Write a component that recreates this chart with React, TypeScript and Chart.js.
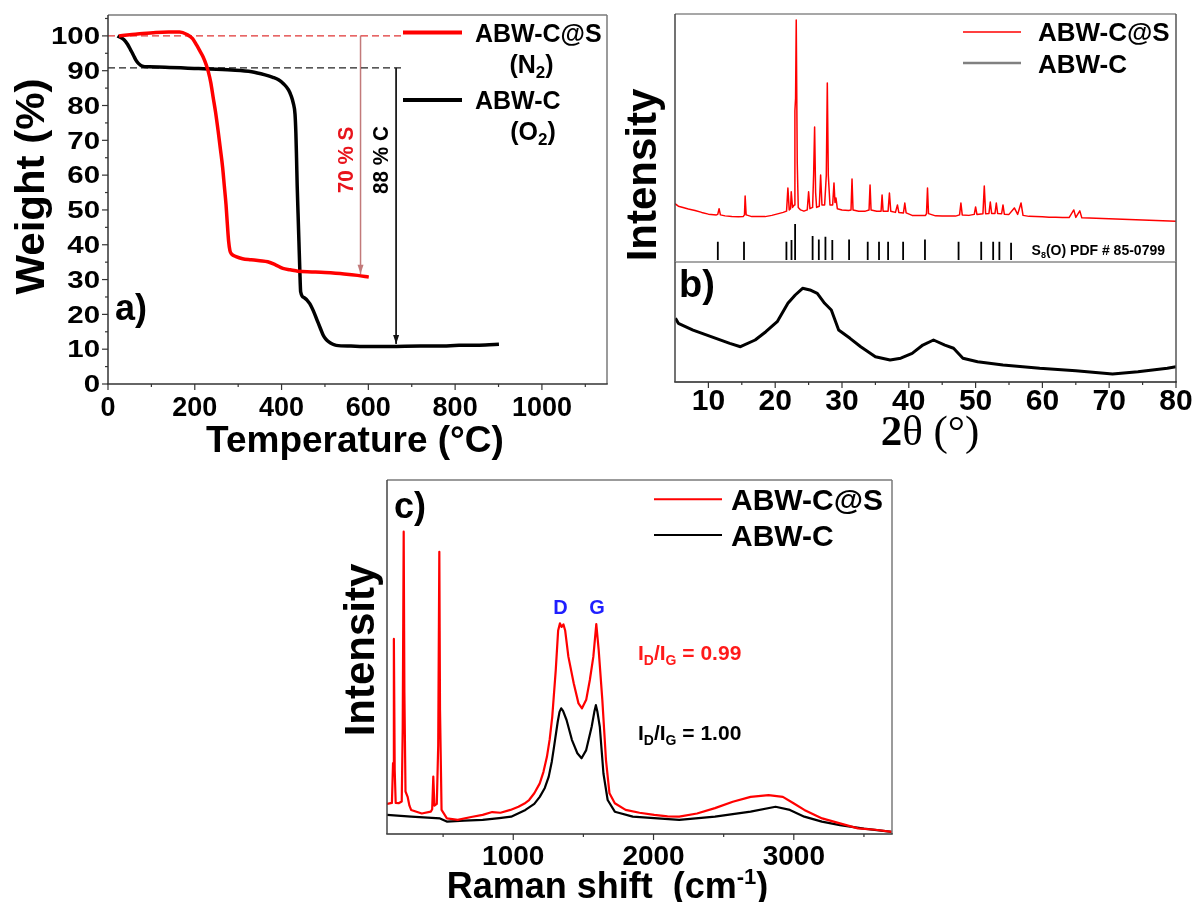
import React, { useEffect, useRef } from 'react';
import { Chart, registerables } from 'chart.js';
Chart.register(...registerables);

const W = 1192, H = 902;

// ---------- Panel a: TGA ----------
const tgaSX = [25, 50, 80, 110, 140, 165, 182, 195, 204, 212, 219, 226, 231, 237, 242, 248, 254, 259, 264, 268, 272, 275, 278, 281, 285, 295, 310, 330, 350, 368, 385, 403, 420, 438, 470, 500, 544, 575, 601];
const tgaSY = [100, 100.3, 100.7, 101.0, 101.1, 101.1, 100.4, 99.2, 97.4, 95.6, 94.0, 91.8, 89.8, 86.5, 82.6, 78, 72.5, 67.5, 62.4, 57, 51.5, 46, 41, 38.3, 37.3, 36.6, 36.0, 35.7, 35.4, 35.1, 34.3, 33.2, 32.8, 32.4, 32.2, 32.0, 31.6, 31.2, 30.7];
const tgaCX = [22, 37, 45, 52, 58, 64, 70, 79, 95, 132, 209, 285, 331, 362, 380, 393, 405, 416, 422, 427, 431, 433, 434.5, 436, 438, 440, 442, 444, 452, 465, 474, 482, 490, 496, 502, 509, 517, 526, 560, 588, 650, 720, 760, 809, 870, 901];
const tgaCY = [100, 98.9, 97.6, 96, 94.6, 93.1, 92.1, 91.3, 91.1, 91.0, 90.6, 90.2, 89.7, 88.8, 88.1, 87.4, 86.2, 84.5, 82.8, 80.7, 77.5, 72, 65, 57, 49, 41, 33, 26.5, 24.8, 23.1, 20.8, 18.3, 15.8, 14, 12.9, 12.1, 11.5, 11.1, 10.9, 10.8, 10.8, 10.9, 10.9, 11.1, 11.2, 11.4];
const tgaXTicks = [0, 200, 400, 600, 800, 1000];
const tgaXMinor = [100, 300, 500, 700, 900, 1100];
const tgaYTicks = [0, 10, 20, 30, 40, 50, 60, 70, 80, 90, 100];
const tgaYMinor = [5, 15, 25, 35, 45, 55, 65, 75, 85, 95, 105];
const sLevel = 100;
const cLevel = 90.8;
const guideEndT = 677;
const sArrow = { t: 582, end: 31.7 };
const cArrow = { t: 664, end: 11.5 };

// ---------- Panel b: XRD ----------
const xrdS: [number, number][] = [
  [5.0, 23.5], [5.5, 22.5], [6.2, 22.0], [7, 21.4], [8, 20.8], [9, 20.0], [10, 19.3], [11.2, 19.0], [11.4, 19.2], [11.6, 21.5], [11.8, 19.0],
  [12.5, 18.6], [13.5, 18.3], [14.5, 18.2], [15.2, 18.3], [15.4, 19], [15.5, 26.6], [15.65, 19], [16.5, 18.3], [17.5, 18.3], [18.5, 18.3],
  [19.5, 18.8], [20.5, 19.5], [21.2, 20], [21.7, 20.5], [21.9, 29.8], [22.1, 21], [22.3, 21.5], [22.4, 28.3], [22.6, 22], [22.85, 23],
  [22.95, 61], [23.05, 66], [23.15, 97.6], [23.3, 40], [23.45, 22], [23.8, 21], [24.3, 20.5], [24.8, 21], [25.0, 28.3], [25.2, 21.5],
  [25.6, 22], [25.75, 35], [25.9, 54.4], [26.05, 28], [26.2, 22], [26.6, 22.5], [26.8, 35.1], [27.0, 23], [27.4, 23], [27.65, 35],
  [27.8, 72.2], [27.95, 35], [28.2, 23], [28.6, 23], [28.8, 31.9], [28.95, 24], [29.1, 25.8], [29.3, 21.5], [30, 21], [31, 20.8],
  [31.35, 21], [31.5, 33.5], [31.65, 21], [32.5, 20.5], [33.5, 20.5], [34.05, 21], [34.2, 31], [34.35, 21], [35.2, 20.5], [35.85, 20.5],
  [36.0, 27], [36.15, 20.5], [36.9, 20.5], [37.1, 27.8], [37.3, 20.5], [38.0, 20], [38.3, 23], [38.5, 20], [39.2, 19.8], [39.4, 23.8],
  [39.6, 19.8], [40.5, 18.8], [41.5, 18.7], [42.5, 18.8], [42.65, 19.5], [42.8, 29.8], [42.95, 19.5], [44, 18.6], [45, 18.5], [46, 18.5],
  [47, 18.5], [47.6, 19], [47.8, 23.8], [48.0, 19], [49, 18.8], [49.8, 19.2], [50.0, 22.2], [50.2, 19.2], [51.1, 19.5], [51.3, 30.6],
  [51.5, 19.5], [52.0, 19.6], [52.2, 24.2], [52.4, 19.6], [52.9, 19.6], [53.1, 23.8], [53.3, 19.6], [53.9, 19.5], [54.1, 23], [54.3, 19.3],
  [55.0, 19.2], [55.8, 21.8], [56.3, 19.2], [56.8, 23.8], [57.1, 18.8], [58, 18.4], [59, 18.3], [60, 18.2], [61, 18.0], [62, 18.0],
  [63, 17.9], [64, 17.9], [64.7, 21], [65.0, 18], [65.6, 20.6], [65.9, 17.8], [67, 17.7], [68, 17.6], [69, 17.5], [70, 17.4], [71, 17.3],
  [72, 17.2], [73, 17.1], [74, 17.0], [75, 16.9], [76, 16.8], [77, 16.7], [78, 16.6], [79, 16.5], [80, 16.4],
];
const xrdRefPos = [11.41, 15.33, 21.68, 22.44, 22.98, 25.6, 26.53, 27.52, 28.55, 31.06, 33.85, 35.54, 36.9, 39.15, 42.42, 47.45, 50.84, 52.63, 53.56, 55.31];
const xrdRefInt = [8.2, 8.2, 8.2, 8.9, 15.3, 10.5, 9.1, 10.2, 8.9, 9.1, 8.2, 8.2, 8.2, 8.2, 9.1, 8.2, 8.2, 8.2, 8.2, 7.8];
const xrdRefBase = 0.8;
const xrdC: [number, number][] = [
  [5.07, 53.1], [5.5, 48.9], [7.7, 43.3], [10.4, 37.8], [13.2, 32.2], [14.8, 29.4], [17.0, 35], [18.6, 41.9], [20.3, 50.3], [21.9, 65.6],
  [23.0, 72.5], [24.1, 78.1], [25.2, 76.7], [26.3, 73.9], [27.4, 65.6], [28.4, 60], [29.5, 43.3], [31.2, 36.4], [32.8, 29.4], [35.0, 21.1],
  [37.2, 18.3], [38.8, 19.8], [40.5, 23.9], [42.1, 30.8], [43.7, 35], [45.4, 30.8], [46.7, 28.1], [48.1, 19.8], [50.3, 16.9], [54.1, 14.2],
  [59.6, 11.4], [65.0, 9.4], [70.5, 6.7], [74.3, 8.6], [78.7, 11.4], [80, 12.8],
];
const xrdXTicks = [10, 20, 30, 40, 50, 60, 70, 80];
const xrdXMinor = [15, 25, 35, 45, 55, 65, 75];

// ---------- Panel c: Raman ----------
const ramanS: [number, number][] = [
  [100, 8.5], [135, 8.8], [143, 20], [149, 55.1], [155, 18], [162, 8.8], [183, 8.7], [205, 9.2], [212, 30], [219, 85.4], [224, 40],
  [232, 12], [247, 10.5], [260, 8], [272, 6.8], [348, 5.8], [412, 6.3], [422, 7], [430, 16.2], [438, 8], [455, 8.5], [465, 25],
  [473, 79.7], [478, 35], [489, 6.8], [527, 4.4], [604, 4.0], [700, 4.8], [782, 5.4], [850, 6.2], [909, 6.0], [980, 6.8], [1037, 7.7],
  [1080, 8.6], [1113, 9.6], [1150, 11.5], [1189, 14.3], [1215, 17.5], [1240, 21.8], [1260, 26.8], [1278, 33.1], [1303, 46.3],
  [1320, 57.5], [1333, 59.5], [1345, 58.5], [1358, 59.2], [1370, 57.5], [1393, 50.1], [1431, 42.6], [1465, 36.9], [1490, 35.5],
  [1520, 37.9], [1546, 43.5], [1571, 50.1], [1592, 59.3], [1609, 52], [1635, 37.9], [1661, 20.9], [1686, 11.5], [1724, 8.7],
  [1801, 6.8], [1900, 6.0], [2005, 5.4], [2100, 5.0], [2183, 4.9], [2310, 5.8], [2438, 7.3], [2565, 9.1], [2692, 10.5], [2820, 11.0],
  [2922, 10.5], [2998, 8.7], [3075, 6.8], [3202, 4.4], [3329, 3.0], [3457, 1.6], [3580, 1.2], [3699, 0.6],
];
const ramanC: [number, number][] = [
  [100, 5.4], [272, 4.9], [478, 4.4], [526, 3.5], [650, 3.8], [782, 4.0], [900, 4.5], [985, 4.9], [1087, 6.8], [1150, 8.5], [1189, 10.5],
  [1225, 13], [1253, 16.2], [1275, 20.5], [1291, 24.7], [1317, 31.7], [1330, 34.5], [1342, 35.5], [1355, 34.8], [1380, 32.2], [1418, 26.6],
  [1457, 22.8], [1487, 21.4], [1520, 23.7], [1559, 30.3], [1578, 34.5], [1589, 36.4], [1600, 34.5], [1617, 30.3], [1643, 17.1],
  [1673, 9.6], [1724, 6.3], [1852, 4.9], [2183, 4.0], [2438, 4.9], [2692, 6.3], [2870, 7.7], [2972, 6.8], [3075, 4.9], [3200, 3.5],
  [3329, 2.5], [3500, 1.5], [3699, 0.6],
];
const ramanXTicks = [1000, 2000, 3000];
const ramanXMinor = [500, 1500, 2500, 3500];

// ---------- helpers ----------
const SANS = '"Liberation Sans", Arial, Helvetica, sans-serif';
const SERIF = '"Liberation Serif", "Times New Roman", serif';
type Run = { t: string; s: number; w?: string; f?: string; dy?: number };
type TOpt = { align?: string; color?: string; rot?: number; sx?: number };

function runs(ctx: CanvasRenderingContext2D, rs: Run[], x: number, y: number, o: TOpt = {}) {
  ctx.save();
  ctx.translate(x, y);
  if (o.rot) ctx.rotate(o.rot);
  if (o.sx) ctx.scale(o.sx, 1);
  ctx.fillStyle = o.color || '#000';
  ctx.textAlign = 'left';
  ctx.textBaseline = 'alphabetic';
  const fonts = rs.map((r) => `${r.w ?? 'bold'} ${r.s}px ${r.f ?? SANS}`);
  const ws = rs.map((r, i) => { ctx.font = fonts[i]; return ctx.measureText(r.t).width; });
  const tot = ws.reduce((a, b) => a + b, 0);
  let cx = o.align === 'center' ? -tot / 2 : o.align === 'right' ? -tot : 0;
  rs.forEach((r, i) => { ctx.font = fonts[i]; ctx.fillText(r.t, cx, r.dy ?? 0); cx += ws[i]; });
  ctx.restore();
}
function txt(ctx: CanvasRenderingContext2D, t: string, s: number, x: number, y: number, o: TOpt = {}) {
  runs(ctx, [{ t, s }], x, y, o);
}
function seg(ctx: CanvasRenderingContext2D, x1: number, y1: number, x2: number, y2: number, color: string, w: number) {
  ctx.save();
  ctx.strokeStyle = color;
  ctx.lineWidth = w;
  ctx.beginPath();
  ctx.moveTo(x1, y1);
  ctx.lineTo(x2, y2);
  ctx.stroke();
  ctx.restore();
}
function box(ctx: CanvasRenderingContext2D, a: any, sides: { l?: string; r?: string; t?: string; b?: string }) {
  if (sides.t) seg(ctx, a.left, a.top, a.right, a.top, sides.t, 1.5);
  if (sides.r) seg(ctx, a.right, a.top, a.right, a.bottom, sides.r, 1.5);
  if (sides.b) seg(ctx, a.left - 0.75, a.bottom, a.right + 0.75, a.bottom, sides.b, 1.5);
  if (sides.l) seg(ctx, a.left, a.top, a.left, a.bottom, sides.l, 1.5);
}
function xTicks(ctx: CanvasRenderingContext2D, chart: any, majors: number[], minors: number[], base: number, size: number, sx = 1) {
  const xs = chart.scales.x, a = chart.chartArea;
  majors.forEach((v) => {
    const p = xs.getPixelForValue(v);
    seg(ctx, p, a.bottom, p, a.bottom + 6, '#333', 1.2);
    txt(ctx, String(v), size, p, base, { align: 'center', sx });
  });
  minors.forEach((v) => {
    const p = xs.getPixelForValue(v);
    seg(ctx, p, a.bottom, p, a.bottom + 3, '#333', 1.2);
  });
}
const pts = (xs: number[], ys: number[]) => xs.map((x, i) => ({ x, y: ys[i] }));
const pairs = (p: [number, number][]) => p.map(([x, y]) => ({ x, y }));
const ds = (data: any[], color: string, width: number, extra: any = {}) => ({
  type: 'line', data, borderColor: color, backgroundColor: color, borderWidth: width, pointRadius: 0, fill: false, tension: 0,
  borderJoinStyle: 'round', ...extra,
});

function makeChart(canvas: HTMLCanvasElement, xr: [number, number], yr: [number, number], area: [number, number, number, number], datasets: any[], plugin: any) {
  return new Chart(canvas, {
    type: 'line',
    data: { datasets },
    options: {
      responsive: false,
      animation: false,
      devicePixelRatio: 1,
      events: [],
      layout: { padding: { left: area[0], top: area[1], right: W - area[2], bottom: H - area[3] } },
      plugins: { legend: { display: false }, tooltip: { enabled: false }, title: { display: false } },
      scales: {
        x: { type: 'linear', min: xr[0], max: xr[1], display: false },
        y: { type: 'linear', min: yr[0], max: yr[1], display: false },
      },
    } as any,
    plugins: [plugin],
  } as any);
}

function buildA(canvas: HTMLCanvasElement) {
  const datasets = [
    ds(pts(tgaSX, tgaSY), '#ff0000', 3.5, { cubicInterpolationMode: 'monotone' }),
    ds(pts(tgaCX, tgaCY), '#000000', 3.5, { cubicInterpolationMode: 'monotone' }),
    ds([{ x: 0, y: sLevel }, { x: guideEndT, y: sLevel }], '#e03535', 1.2, { borderDash: [7, 4] }),
    ds([{ x: 0, y: cLevel }, { x: guideEndT, y: cLevel }], '#222222', 1.2, { borderDash: [7, 4] }),
    ds([{ x: sArrow.t, y: sLevel }, { x: sArrow.t, y: sArrow.end }], '#c27a7a', 1.5),
    ds([{ x: cArrow.t, y: cLevel }, { x: cArrow.t, y: cArrow.end }], '#111111', 1),
  ];
  const plugin = {
    id: 'panelA',
    afterDatasetsDraw(chart: any) {
      const ctx = chart.ctx as CanvasRenderingContext2D;
      const xs = chart.scales.x, ys = chart.scales.y, a = chart.chartArea;
      const head = (t: number, v: number, color: string) => {
        const px = xs.getPixelForValue(t), py = ys.getPixelForValue(v);
        ctx.save();
        ctx.fillStyle = color;
        ctx.beginPath();
        ctx.moveTo(px, py);
        ctx.lineTo(px - 3, py - 9);
        ctx.lineTo(px + 3, py - 9);
        ctx.closePath();
        ctx.fill();
        ctx.restore();
      };
      head(sArrow.t, sArrow.end, '#c27a7a');
      head(cArrow.t, cArrow.end, '#111111');
      box(ctx, a, { t: '#7a7a7a', r: '#7a7a7a', b: '#333', l: '#333' });
      xTicks(ctx, chart, tgaXTicks, tgaXMinor, 416.4, 27);
      tgaYTicks.forEach((v) => {
        const p = ys.getPixelForValue(v);
        seg(ctx, a.left - 6, p, a.left, p, '#333', 1.2);
        txt(ctx, String(v), 23, a.left - 8, p + 8.2, { align: 'right', sx: 1.28 });
      });
      tgaYMinor.forEach((v) => {
        const p = ys.getPixelForValue(v);
        seg(ctx, a.left - 3, p, a.left, p, '#333', 1.2);
      });
      txt(ctx, 'Weight (%)', 40, 43.8, 186.5, { align: 'center', rot: -Math.PI / 2, sx: 1.05 });
      txt(ctx, 'Temperature (\u00B0C)', 37, 355, 452, { align: 'center' });
      txt(ctx, 'a)', 36, 115, 320);
      txt(ctx, '70 % S', 22, 352.9, 160, { align: 'center', rot: -Math.PI / 2, color: '#e8141c', sx: 0.94 });
      txt(ctx, '88 % C', 22, 387.9, 160, { align: 'center', rot: -Math.PI / 2, sx: 0.94 });
      seg(ctx, 403, 32.5, 462, 32.5, '#ff0000', 4);
      txt(ctx, 'ABW-C@S', 25, 475, 42);
      runs(ctx, [{ t: '(N', s: 25 }, { t: '2', s: 17, dy: 5 }, { t: ')', s: 25 }], 531.5, 73, { align: 'center' });
      seg(ctx, 403, 100, 462, 100, '#000000', 4);
      txt(ctx, 'ABW-C', 25, 475, 109);
      runs(ctx, [{ t: '(O', s: 25 }, { t: '2', s: 17, dy: 5 }, { t: ')', s: 25 }], 533, 140, { align: 'center' });
    },
  };
  return makeChart(canvas, [0, 1150], [0, 106], [108, 15, 607, 384], datasets, plugin);
}

function buildBTop(canvas: HTMLCanvasElement) {
  const sticks: any[] = [];
  xrdRefPos.forEach((p, i) => {
    sticks.push({ x: p, y: xrdRefBase }, { x: p, y: xrdRefInt[i] }, { x: p, y: null });
  });
  const datasets = [
    ds(pairs(xrdS), '#ff0000', 1.5),
    ds(sticks, '#000000', 1.8, { spanGaps: false, borderJoinStyle: 'miter' }),
  ];
  const plugin = {
    id: 'panelBTop',
    afterDatasetsDraw(chart: any) {
      const ctx = chart.ctx as CanvasRenderingContext2D;
      const a = chart.chartArea;
      box(ctx, a, { t: '#8a8a8a', r: '#555', l: '#444' });
      seg(ctx, a.left, a.bottom, a.right, a.bottom, '#8a8a8a', 1.5);
      txt(ctx, 'Intensity', 42, 656, 175, { align: 'center', rot: -Math.PI / 2 });
      seg(ctx, 963, 32, 1021, 32, '#ff0000', 1.5);
      txt(ctx, 'ABW-C@S', 26, 1038, 41.3);
      seg(ctx, 963, 63, 1021, 63, '#808080', 2.5);
      txt(ctx, 'ABW-C', 26, 1038, 72.6);
      runs(ctx, [{ t: 'S', s: 14 }, { t: '8', s: 9, dy: 3 }, { t: '(O) PDF # 85-0799', s: 14 }], 1165, 255, { align: 'right' });
    },
  };
  return makeChart(canvas, [5, 80], [0, 100], [675, 14, 1176, 262], datasets, plugin);
}

function buildBBottom(canvas: HTMLCanvasElement) {
  const datasets = [ds(pairs(xrdC), '#000000', 3)];
  const plugin = {
    id: 'panelBBottom',
    afterDatasetsDraw(chart: any) {
      const ctx = chart.ctx as CanvasRenderingContext2D;
      const a = chart.chartArea;
      box(ctx, a, { r: '#555', b: '#222', l: '#444' });
      xTicks(ctx, chart, xrdXTicks, xrdXMinor, 410, 30);
      txt(ctx, 'b)', 38, 679, 297);
      runs(ctx, [{ t: '2', s: 43, w: 'bold', f: SERIF }, { t: '\u03B8 (\u00B0)', s: 43, w: 'normal', f: SERIF }], 930, 445, { align: 'center' });
    },
  };
  return makeChart(canvas, [5, 80], [0, 100], [675, 262, 1176, 382], datasets, plugin);
}

function buildC(canvas: HTMLCanvasElement) {
  const datasets = [ds(pairs(ramanS), '#ff0000', 2.2), ds(pairs(ramanC), '#000000', 2.2)];
  const plugin = {
    id: 'panelC',
    afterDatasetsDraw(chart: any) {
      const ctx = chart.ctx as CanvasRenderingContext2D;
      const a = chart.chartArea;
      box(ctx, a, { t: '#7a7a7a', r: '#7a7a7a', b: '#333', l: '#444' });
      xTicks(ctx, chart, ramanXTicks, ramanXMinor, 865, 28);
      txt(ctx, 'Intensity', 42, 374, 650, { align: 'center', rot: -Math.PI / 2 });
      txt(ctx, 'c)', 36, 394, 517.5);
      seg(ctx, 654, 499.3, 722, 499.3, '#ff0000', 2);
      txt(ctx, 'ABW-C@S', 30, 731, 509.7);
      seg(ctx, 654, 535, 722, 535, '#000000', 2);
      txt(ctx, 'ABW-C', 30, 731, 545.7);
      txt(ctx, 'D', 20, 560.4, 614, { align: 'center', color: '#1f1fff' });
      txt(ctx, 'G', 20, 597, 614, { align: 'center', color: '#1f1fff' });
      const ratio = (val: string) => [
        { t: 'I', s: 21 }, { t: 'D', s: 14, dy: 5 }, { t: '/I', s: 21 }, { t: 'G', s: 14, dy: 5 }, { t: ' = ' + val, s: 21 },
      ];
      runs(ctx, ratio('0.99'), 638, 660, { color: '#ff1a1a' });
      runs(ctx, ratio('1.00'), 638, 740);
      runs(ctx, [{ t: 'Raman shift  (cm', s: 36 }, { t: '-1', s: 22, dy: -14 }, { t: ')', s: 36 }], 607.5, 898, { align: 'center' });
    },
  };
  return makeChart(canvas, [100, 3700], [0, 100], [387, 480, 892, 834], datasets, plugin);
}

export default function App() {
  const r1 = useRef<HTMLCanvasElement>(null);
  const r2 = useRef<HTMLCanvasElement>(null);
  const r3 = useRef<HTMLCanvasElement>(null);
  const r4 = useRef<HTMLCanvasElement>(null);
  useEffect(() => {
    const charts = [buildA(r1.current!), buildBTop(r2.current!), buildBBottom(r3.current!), buildC(r4.current!)];
    return () => charts.forEach((c) => c.destroy());
  }, []);
  const st: React.CSSProperties = { position: 'absolute', left: 0, top: 0, width: W, height: H };
  return (
    <div style={{ position: 'absolute', left: 0, top: 0, width: W, height: H, background: '#fff', overflow: 'hidden' }}>
      <canvas ref={r1} width={W} height={H} style={st} />
      <canvas ref={r2} width={W} height={H} style={st} />
      <canvas ref={r3} width={W} height={H} style={st} />
      <canvas ref={r4} width={W} height={H} style={st} />
    </div>
  );
}
